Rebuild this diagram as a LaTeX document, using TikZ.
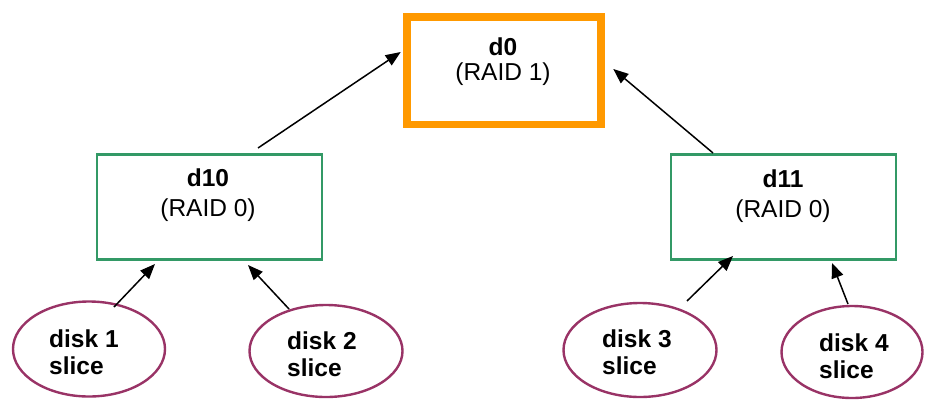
\documentclass[tikz,border=0pt]{standalone}
\usepackage{fontspec}
\setmainfont{Liberation Sans}
\usetikzlibrary{arrows.meta,shapes.geometric}
\definecolor{raidorange}{RGB}{255,153,0}
\definecolor{raidgreen}{RGB}{51,153,102}
\definecolor{diskpurple}{RGB}{153,51,102}
\tikzset{
  mirrorbox/.style={draw=raidorange, line width=7.7pt, minimum width=194pt, minimum height=107.5pt, inner sep=0pt},
  stripebox/.style={draw=raidgreen, line width=2.7pt, minimum width=225pt, minimum height=105.5pt, inner sep=0pt},
  boxtext/.style={align=center, inner sep=0pt, font=\fontsize{24.5}{30}\selectfont},
  disk/.style={ellipse, draw=diskpurple, line width=2.4pt, inner sep=0pt},
  disktext/.style={align=left, inner sep=0pt, font=\fontsize{24.5}{27}\selectfont\bfseries},
  link/.style={line width=1.5pt, -{Triangle[length=15pt,width=12pt]}}
}
\begin{document}
\begin{tikzpicture}[x=1pt,y=-1pt]
\useasboundingbox (0,0) rectangle (925,399);
% boxes
\node[mirrorbox] (d0) at (504,70.75) {};
\node[stripebox] (d10) at (209.5,207) {};
\node[stripebox] (d11) at (783.5,207) {};
\node[boxtext, font=\fontsize{24.5}{25}\selectfont] (d0t) at (503,62) {\textbf{d0}\\(RAID 1)};
\node[boxtext] (d10t) at (208,195) {\textbf{d10}\\(RAID 0)};
\node[boxtext] (d11t) at (783,196) {\textbf{d11}\\(RAID 0)};
% disks
\node[disk, minimum width=152pt, minimum height=95pt] (k1) at (89,349) {};
\node[disk, minimum width=153pt, minimum height=92pt] (k2) at (326,351) {};
\node[disk, minimum width=153pt, minimum height=94pt] (k3) at (640,350) {};
\node[disk, minimum width=141pt, minimum height=92pt] (k4) at (852,352) {};
\node[disktext, anchor=west] (k1t) at (49,352) {disk 1\\slice};
\node[disktext, anchor=west] (k2t) at (287,354) {disk 2\\slice};
\node[disktext, anchor=west] (k3t) at (602,352) {disk 3\\slice};
\node[disktext, anchor=west] (k4t) at (819,356) {disk 4\\slice};
% connectors
\draw[link] ([shift={(48.5,-59)}]d10.center) -- ([shift={(-103.3,-18.75)}]d0.center);
\draw[link] ([shift={(-70.5,-54)}]d11.center) -- ([shift={(109.3,-1.75)}]d0.center);
\draw[link] ([shift={(25,-42)}]k1.center) -- ([shift={(-54.5,57)}]d10.center);
\draw[link] ([shift={(-37,-42)}]k2.center) -- ([shift={(38.5,58)}]d10.center);
\draw[link] ([shift={(47,-49)}]k3.center) -- ([shift={(-50.5,49)}]d11.center);
\draw[link] ([shift={(-4,-48)}]k4.center) -- ([shift={(48.5,56)}]d11.center);
\end{tikzpicture}
\end{document}
